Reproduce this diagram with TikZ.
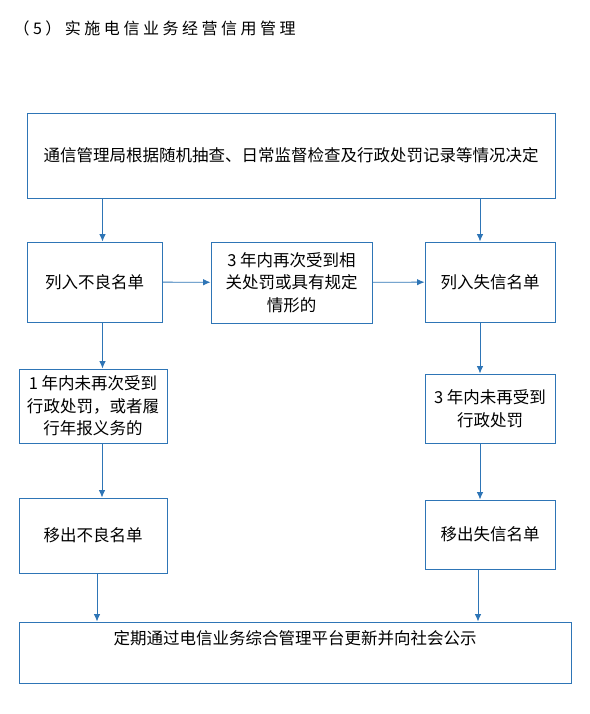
\documentclass[tikz,border=0pt]{standalone}
\usepackage{fontspec}
\usepackage{tikz}
\usetikzlibrary{arrows.meta}
\newfontfamily\cjk{Noto Sans CJK SC}
\newfontfamily\cjktitle[LetterSpace=22]{Noto Sans CJK SC}
\definecolor{boxblue}{RGB}{46,117,182}

\begin{document}
\begin{tikzpicture}[x=1pt, y=-1pt, >={Latex[length=7.5pt,width=6.5pt]},
  every node/.style={font=\cjk\fontsize{16.5}{22.5}\selectfont},
  stepbox/.style={draw=boxblue, line width=0.9pt, align=center, inner sep=2pt},
  flow/.style={->, draw=boxblue, line width=0.9pt}]
\useasboundingbox (0,0) rectangle (589,714);
\node[anchor=west, font=\cjktitle\fontsize{16}{20}\selectfont] (title) at (10,28) {（5）实施电信业务经营信用管理};
\node[stepbox, minimum width=528pt, minimum height=85pt] (check) at (291,155.5) {通信管理局根据随机抽查、日常监督检查及行政处罚记录等情况决定};
\node[stepbox, minimum width=135pt, minimum height=80pt] (bad) at (94.5,282) {列入不良名单};
\node[stepbox, minimum width=161pt, minimum height=81pt] (again) at (291.5,282.5) {3 年内再次受到相\\关处罚或具有规定\\情形的};
\node[stepbox, minimum width=130pt, minimum height=80pt] (lost) at (490,282) {列入失信名单};
\node[stepbox, minimum width=148pt, minimum height=74pt] (oneyear) at (93,406) {1 年内未再次受到\\行政处罚，或者履\\行年报义务的};
\node[stepbox, minimum width=130pt, minimum height=69pt] (threeyear) at (490,408.5) {3 年内未再受到\\行政处罚};
\node[stepbox, minimum width=148pt, minimum height=75pt] (outbad) at (93,535.5) {移出不良名单};
\node[stepbox, minimum width=130pt, minimum height=69pt] (outlost) at (490,534.5) {移出失信名单};
\node[stepbox, minimum width=552pt, minimum height=61pt] (publish) at (295,652.5) {定期通过电信业务综合管理平台更新并向社会公示\\\strut};
\draw[flow] ([xshift=8pt]bad.north |- check.south) -- ([xshift=8pt]bad.north);
\draw[flow] ([xshift=-10pt]lost.north |- check.south) -- ([xshift=-10pt]lost.north);
\draw[flow] (bad) -- (again);
\draw[flow] (again) -- (lost);
\draw[flow] ([xshift=8pt]bad.south) -- ([xshift=8pt]bad.south |- oneyear.north);
\draw[flow] ([xshift=-10pt]lost.south) -- ([xshift=-10pt]lost.south |- threeyear.north);
\draw[flow] ([xshift=9pt]oneyear.south) -- ([xshift=9pt]oneyear.south |- outbad.north);
\draw[flow] ([xshift=-10pt]threeyear.south) -- ([xshift=-10pt]threeyear.south |- outlost.north);
\draw[flow] ([xshift=4pt]outbad.south) -- ([xshift=4pt]outbad.south |- publish.north);
\draw[flow] ([xshift=-12pt]outlost.south) -- ([xshift=-12pt]outlost.south |- publish.north);
\end{tikzpicture}
\end{document}
